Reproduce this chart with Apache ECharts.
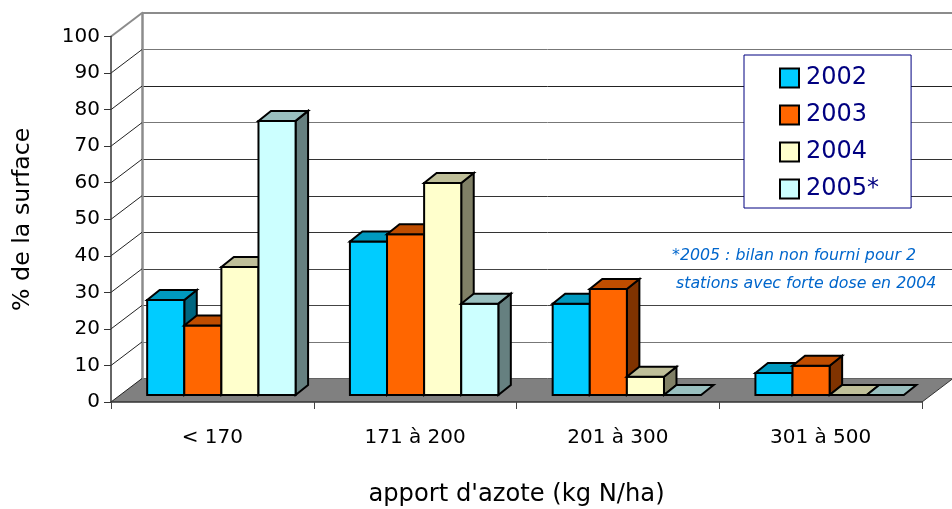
<!DOCTYPE html>
<html><head><meta charset="utf-8">
<style>html,body{margin:0;padding:0;background:#fff}#c{width:952px;height:509px}</style>
<script src="https://cdn.jsdelivr.net/npm/echarts@6/dist/echarts.min.js"></script>
</head><body><div id="c"></div>
<script>
const categories = ['< 170', '171 à 200', '201 à 300', '301 à 500'];
const yTicks = [0, 10, 20, 30, 40, 50, 60, 70, 80, 90, 100];
const v2002 = [26, 42, 25, 6];
const v2003 = [19, 44, 29, 8];
const v2004 = [35, 58, 5, 0];
const v2005 = [75, 25, 0, 0];
const seriesNames = ['2002', '2003', '2004', '2005*'];
const seriesValues = [v2002, v2003, v2004, v2005];
const fronts = ['#00CCFF', '#FF6600', '#FFFFCC', '#CCFFFF'];
const tops = ['#0099BF', '#BF4D00', '#BFBF99', '#99BFBF'];
const sides = ['#006680', '#803300', '#808066', '#668080'];
const noteLines = ['*2005 : bilan non fourni pour 2', 'stations avec forte dose en 2004'];

const FONT = '"DejaVu Sans"';
const WALL = [31, 23.5], GAP = [9, 7], BAR = [12.5, 10];
const chart = echarts.init(document.getElementById('c'), null, {renderer: 'canvas'});

function poly(points, fill, stroke, lw) {
  return {type: 'polygon', shape: {points}, style: {fill, stroke, lineWidth: lw}};
}
function barSeries(idx) {
  return {
    type: 'custom', name: seriesNames[idx], xAxisIndex: 0, yAxisIndex: 0, clip: false, z: 5 + idx,
    itemStyle: {color: fronts[idx]},
    data: seriesValues[idx].map((v, c) => [c, v]),
    renderItem(params, api) {
      const base = api.coord([api.value(0), 0]);
      const top = api.coord([api.value(0), api.value(1)]);
      const band = api.size([1, 0])[0];
      const w = band * 0.183;
      const x0 = base[0] + GAP[0] + (idx - 2) * w, x1 = x0 + w;
      const yb = base[1] - GAP[1], yt = top[1] - GAP[1];
      const dx = BAR[0], dy = BAR[1];
      const children = [];
      if (yb - yt > 0.5) {
        children.push(poly([[x1, yb], [x1 + dx, yb - dy], [x1 + dx, yt - dy], [x1, yt]], sides[idx], '#000', 2));
        children.push(poly([[x0, yb], [x1, yb], [x1, yt], [x0, yt]], fronts[idx], '#000', 2));
      }
      children.push(poly([[x0, yt], [x1, yt], [x1 + dx, yt - dy], [x0 + dx, yt - dy]], tops[idx], '#000', 2));
      return {type: 'group', children};
    }
  };
}
const floorSeries = {
  type: 'custom', name: 'floor', xAxisIndex: 0, yAxisIndex: 0, clip: false, z: 3, silent: true,
  data: [[0, 0]],
  renderItem(params, api) {
    const band = api.size([1, 0])[0];
    const l = api.coord([0, 0]), r = api.coord([categories.length - 1, 0]);
    const xl = l[0] - band / 2, xr = r[0] + band / 2, y = l[1];
    return {type: 'group', children: [
      poly([[xl, y], [xr, y], [xr + WALL[0], y - WALL[1]], [xl + WALL[0], y - WALL[1]]], '#808080', null, 0),
      {type: 'line', shape: {x1: xr, y1: y, x2: xr + WALL[0], y2: y - WALL[1]}, style: {stroke: '#333', lineWidth: 1}}
    ]};
  }
};
const obliqueSeries = {
  type: 'custom', name: 'oblique', xAxisIndex: 0, yAxisIndex: 0, clip: false, z: 4, silent: true,
  data: yTicks.map(t => [0, t]),
  renderItem(params, api) {
    const band = api.size([1, 0])[0];
    const p = api.coord([0, api.value(1)]);
    const x = p[0] - band / 2, y = p[1];
    const isTop = api.value(1) === yTicks[yTicks.length - 1];
    const children = [{type: 'line', shape: {x1: x, y1: y, x2: x + WALL[0], y2: y - WALL[1]},
      style: {stroke: isTop ? '#8c8c8c' : '#222', lineWidth: isTop ? 2 : 1}}];
    if (isTop) {
      children.push({type: 'line', shape: {x1: x + WALL[0], y1: y - WALL[1], x2: x + WALL[0] + band * 4, y2: y - WALL[1]},
        style: {stroke: '#8c8c8c', lineWidth: 2}});
    }
    return {type: 'group', children};
  }
};

chart.setOption({
  animation: false,
  backgroundColor: '#fff',
  grid: [
    {left: 111, top: 36.5, width: 811, height: 365.5, outerBoundsMode: 'none'},
    {left: 142, top: 13, width: 811, height: 365.5, outerBoundsMode: 'none'}
  ],
  xAxis: [
    {type: 'category', gridIndex: 0, data: categories, z: 10,
     axisLine: {lineStyle: {color: '#333', width: 1.5}},
     axisTick: {show: true, length: 7, lineStyle: {color: '#444', width: 1}},
     axisLabel: {color: '#000', fontFamily: FONT, fontSize: 20, margin: 26},
     name: "apport d'azote (kg N/ha)", nameLocation: 'middle', nameGap: 81,
     nameTextStyle: {color: '#000', fontFamily: FONT, fontSize: 24.2}},
    {type: 'category', gridIndex: 1, data: categories, show: false}
  ],
  yAxis: [
    {type: 'value', gridIndex: 0, min: 0, max: 100, interval: 10, z: 10,
     axisLine: {show: true, lineStyle: {color: '#333', width: 1.5}},
     axisTick: {show: true, length: 7, lineStyle: {color: '#333', width: 1}},
     axisLabel: {color: '#000', fontFamily: FONT, fontSize: 20, margin: 11},
     splitLine: {show: false},
     name: '% de la surface', nameLocation: 'middle', nameGap: 76, nameRotate: 90,
     nameTextStyle: {color: '#000', fontFamily: FONT, fontSize: 23.7}},
    {type: 'value', gridIndex: 1, min: 0, max: 100, interval: 10,
     axisLine: {show: true, lineStyle: {color: '#8c8c8c', width: 2.5}},
     axisTick: {show: false}, axisLabel: {show: false},
     splitLine: {show: true, lineStyle: {color: ['#444', '#777', '#444', '#444', '#333', '#333', '#333', '#777', '#222', '#777', '#8c8c8c'], width: 1}}}
  ],
  legend: {
    left: 744, top: 55, orient: 'vertical', icon: 'rect',
    data: seriesNames,
    itemWidth: 19, itemHeight: 19, itemGap: 13, itemStyle: {borderColor: '#000', borderWidth: 2},
    padding: [11, 32, 7, 35],
    backgroundColor: '#fff', borderColor: '#000080', borderWidth: 1,
    textStyle: {color: '#000080', fontFamily: FONT, fontSize: 24, padding: [0, 0, 0, 2]},
    selectedMode: false, z: 20
  },
  graphic: [
    {type: 'text', left: 672, top: 248, z: 20, style: {text: noteLines[0], fill: '#0066CC', font: 'italic 15.8px ' + FONT}},
    {type: 'text', left: 676, top: 276, z: 20, style: {text: noteLines[1], fill: '#0066CC', font: 'italic 15.8px ' + FONT}}
  ],
  series: [floorSeries, obliqueSeries].concat(seriesNames.map((n, i) => barSeries(i)))
});
</script></body></html>
